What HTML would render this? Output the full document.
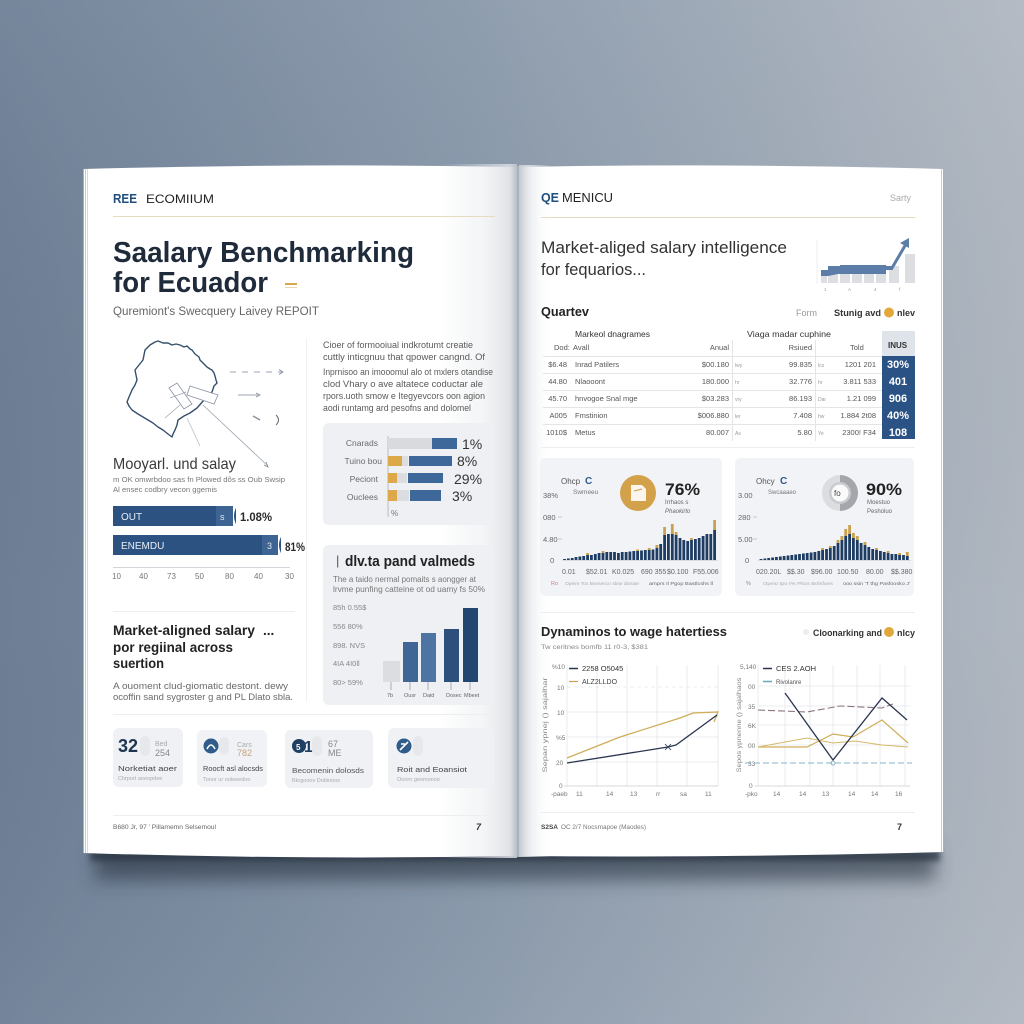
<!DOCTYPE html>
<html><head><meta charset="utf-8"><style>
html,body{margin:0;padding:0;background:#8a9aab;}
svg{display:block;font-family:"Liberation Sans",sans-serif;}
</style></head><body>
<svg width="1024" height="1024" viewBox="0 0 1024 1024" xmlns="http://www.w3.org/2000/svg">
<defs>
<linearGradient id="bg" x1="0" y1="0" x2="1" y2="0">
<stop offset="0" stop-color="#6d7e95"/><stop offset="0.45" stop-color="#8797a9"/><stop offset="1" stop-color="#b0b7c1"/>
</linearGradient>
<linearGradient id="bgv" x1="0" y1="0" x2="0" y2="1">
<stop offset="0" stop-color="#ffffff" stop-opacity="0.06"/><stop offset="0.6" stop-color="#000" stop-opacity="0"/><stop offset="1" stop-color="#ffffff" stop-opacity="0.05"/>
</linearGradient>
<linearGradient id="lsp" x1="0" y1="0" x2="1" y2="0">
<stop offset="0" stop-color="#dfe2e6" stop-opacity="0"/><stop offset="0.55" stop-color="#e6e9ec" stop-opacity="0.45"/><stop offset="0.9" stop-color="#dadde2" stop-opacity="0.85"/><stop offset="1" stop-color="#b9bfc7" stop-opacity="1"/>
</linearGradient>
<linearGradient id="rsp" x1="0" y1="0" x2="1" y2="0">
<stop offset="0" stop-color="#c4c9d0" stop-opacity="1"/><stop offset="0.3" stop-color="#e3e6e9" stop-opacity="0.8"/><stop offset="1" stop-color="#ffffff" stop-opacity="0"/>
</linearGradient>
<filter id="blur" x="-20%" y="-200%" width="140%" height="500%"><feGaussianBlur stdDeviation="9"/></filter>
<filter id="blur2" x="-20%" y="-200%" width="140%" height="500%"><feGaussianBlur stdDeviation="3"/></filter>
</defs>

<rect width="1024" height="1024" fill="url(#bg)"/>
<rect width="1024" height="1024" fill="url(#bgv)"/>

<!-- shadow -->
<rect x="95" y="846" width="840" height="34" fill="#263140" opacity="0.6" filter="url(#blur)"/>
<rect x="90" y="850" width="850" height="11" fill="#263140" opacity="0.7" filter="url(#blur2)"/>

<!-- left page -->
<path d="M83 169 Q300 163 517 167 L517 856 Q300 860 83 853 Z" fill="#ffffff"/>
<rect x="440" y="164" width="77" height="694" fill="url(#lsp)"/>
<line x1="83.5" y1="169" x2="83.5" y2="853" stroke="#a9b0ba" stroke-width="1"/>
<line x1="85.5" y1="169" x2="85.5" y2="853" stroke="#c8ccd2" stroke-width="1"/>
<line x1="87.5" y1="169" x2="87.5" y2="853" stroke="#d6d9de" stroke-width="1"/>
<!-- right page -->
<path d="M519 167 Q730 163 943 169 L943 852 Q730 858 519 856 Z" fill="#ffffff"/>
<rect x="519" y="165" width="32" height="692" fill="url(#rsp)"/>
<line x1="941.5" y1="169" x2="941.5" y2="852" stroke="#c9cdd3" stroke-width="1"/>
<line x1="943.5" y1="169" x2="943.5" y2="852" stroke="#a9b0ba" stroke-width="1"/>
<line x1="518" y1="166" x2="518" y2="857" stroke="#aab1ba" stroke-width="2"/>

<!-- ================= LEFT PAGE ================= -->
<text x="113" y="203" font-size="13" font-weight="bold" fill="#1f4f7e" textLength="24" lengthAdjust="spacingAndGlyphs">REE</text>
<text x="146" y="203" font-size="12" fill="#222" textLength="68" lengthAdjust="spacingAndGlyphs">ECOMIIUM</text>
<line x1="113" y1="216.5" x2="495" y2="216.5" stroke="#e6dbbf" stroke-width="1"/>

<text x="113" y="262" font-size="29" font-weight="bold" fill="#1f2b3a" textLength="301" lengthAdjust="spacingAndGlyphs">Saalary Benchmarking</text>
<text x="113" y="292" font-size="29" font-weight="bold" fill="#1f2b3a" textLength="155" lengthAdjust="spacingAndGlyphs">for Ecuador</text>
<rect x="285" y="283" width="12" height="2" fill="#d8a94a"/>
<rect x="285" y="287" width="12" height="1" fill="#e9d7ae"/>
<text x="113" y="315" font-size="11.5" fill="#666" textLength="206" lengthAdjust="spacingAndGlyphs">Quremiont's Swecquery Laivey REPOIT</text>

<!-- map -->
<path d="M145 350 L150 345 L155 342 L158 341 L163 343 L168 343 L172 345 L176 344 L180 345 L184 347 L187 346 L190 349 L192 350 L195 354 L199 357 L200 360 L204 364 L207 367 L210 369 L212 370 L214 373 L215 376 L216 380 L217 383 L214 386 L212 392 L204 400 L197 408 L190 413 L184 416 L178 420 L177 425 L175 430 L173 434 L172 437 L168 434 L163 430 L158 427 L153 423 L148 420 L143 417 L138 414 L132 410 L129 406 L127 402 L129 397 L132 390 L135 385 L137 380 L136 375 L135 370 L139 365 L143 360 L144 355 Z" fill="none" stroke="#34506d" stroke-width="1.4" stroke-linejoin="round"/>
<path d="M169 388 L177 383 L192 404 L184 409 Z" fill="#fff" stroke="#8792a0" stroke-width="0.8"/>
<path d="M190 386 L218 395 L214 404 L187 395 Z" fill="#fff" stroke="#8792a0" stroke-width="0.8"/>
<line x1="170" y1="398" x2="186" y2="392" stroke="#9aa3ae" stroke-width="0.7"/>
<line x1="165" y1="418" x2="180" y2="405" stroke="#9aa3ae" stroke-width="0.7"/>
<line x1="203" y1="405" x2="268" y2="466" stroke="#9aa3ae" stroke-width="0.8"/>
<path d="M264 465 L268 467 L266 462" fill="none" stroke="#7d8896" stroke-width="0.8"/>
<line x1="187" y1="418" x2="200" y2="446" stroke="#b8bec6" stroke-width="0.8"/>
<line x1="230" y1="372" x2="282" y2="372" stroke="#7d8896" stroke-width="0.8" stroke-dasharray="6,6"/>
<path d="M279 369.5 L283 372 L279 374.5" fill="none" stroke="#7d8896" stroke-width="0.8"/>
<line x1="238" y1="395" x2="258" y2="395" stroke="#7d8896" stroke-width="0.8"/>
<path d="M256 393 L260 395 L256 397" fill="none" stroke="#7d8896" stroke-width="0.8"/>
<path d="M253 416 L260 420" stroke="#8a94a0" stroke-width="1.5"/>
<path d="M276 415 Q281 420 276 425" fill="none" stroke="#666" stroke-width="1"/>

<text x="113" y="469" font-size="16" fill="#3a3a3a" textLength="123" lengthAdjust="spacingAndGlyphs">Mooyarl. und salay</text>
<text x="113" y="482" font-size="7" fill="#777" textLength="172" lengthAdjust="spacingAndGlyphs">m OK omwrbdoo sas fn Plowed dôs ss Oub Swsip</text>
<text x="113" y="492" font-size="7" fill="#777" textLength="104" lengthAdjust="spacingAndGlyphs">Al ensec codbry vecon ggemis</text>

<rect x="113" y="506" width="123" height="20" fill="#2c5282"/>
<rect x="216" y="506" width="17" height="20" fill="#3d6493"/>
<path d="M233 506 L237 506 Q231 516 237 526 L233 526 Z" fill="#fff"/>
<text x="121" y="520" font-size="10" fill="#e8eef5">OUT</text>
<text x="220" y="520" font-size="9" fill="#dfe7f0">s</text>
<text x="240" y="521" font-size="12" font-weight="bold" fill="#2a2a2a" textLength="32" lengthAdjust="spacingAndGlyphs">1.08%</text>

<rect x="113" y="535" width="168" height="20" fill="#2c5282"/>
<rect x="262" y="535" width="16" height="20" fill="#3d6493"/>
<path d="M278 535 L282 535 Q276 545 282 555 L278 555 Z" fill="#fff"/>
<text x="121" y="549" font-size="10" fill="#e8eef5">ENEMDU</text>
<text x="267" y="549" font-size="9" fill="#dfe7f0">3</text>
<text x="285" y="551" font-size="12" font-weight="bold" fill="#2a2a2a" textLength="20" lengthAdjust="spacingAndGlyphs">81%</text>

<line x1="113" y1="567.5" x2="290" y2="567.5" stroke="#d2d5da" stroke-width="1"/>
<g font-size="8" fill="#777">
<text x="112" y="579">10</text><text x="139" y="579">40</text><text x="167" y="579">73</text><text x="195" y="579">50</text><text x="225" y="579">80</text><text x="254" y="579">40</text><text x="285" y="579">30</text>
</g>
<line x1="113" y1="611.5" x2="295" y2="611.5" stroke="#eceef1" stroke-width="1"/>
<line x1="306.5" y1="338" x2="306.5" y2="702" stroke="#f0f1f3" stroke-width="1"/>

<text x="113" y="635" font-size="13.5" font-weight="bold" fill="#222" textLength="142" lengthAdjust="spacingAndGlyphs">Market-aligned salary</text>
<text x="263" y="635" font-size="13.5" font-weight="bold" fill="#222">...</text>
<text x="113" y="652" font-size="13.5" font-weight="bold" fill="#222" textLength="120" lengthAdjust="spacingAndGlyphs">por regiinal across</text>
<text x="113" y="668" font-size="13.5" font-weight="bold" fill="#222" textLength="51" lengthAdjust="spacingAndGlyphs">suertion</text>
<text x="113" y="689" font-size="9" fill="#6a6a6a" textLength="175" lengthAdjust="spacingAndGlyphs">A ouoment clud-giomatic destont. dewy</text>
<text x="113" y="700" font-size="9" fill="#6a6a6a" textLength="180" lengthAdjust="spacingAndGlyphs">ocoffin sand sygroster g and PL Dlato sbla.</text>

<!-- right column text -->
<g font-size="9" fill="#5a5a5a">
<text x="323" y="348" textLength="150" lengthAdjust="spacingAndGlyphs">Cioer of formooiual indkrotumt creatie</text>
<text x="323" y="360" textLength="162" lengthAdjust="spacingAndGlyphs">cuttly inticgnuu that qpower cangnd. Of</text>
<text x="323" y="375" textLength="170" lengthAdjust="spacingAndGlyphs">Inprnisoo an imooomul alo ot mxlers otandise</text>
<text x="323" y="387" textLength="160" lengthAdjust="spacingAndGlyphs">clod Vhary o ave altatece coductar ale</text>
<text x="323" y="399" textLength="162" lengthAdjust="spacingAndGlyphs">rpors.uoth smow e Itegyevcors oon agion</text>
<text x="323" y="411" textLength="148" lengthAdjust="spacingAndGlyphs">aodi runtamg ard pesofns and dolomel</text>
</g>

<!-- card 1 bar chart -->
<rect x="323" y="423" width="171" height="102" rx="6" fill="#eef0f4"/>
<line x1="388" y1="436" x2="388" y2="517" stroke="#a9aeb6" stroke-width="0.8"/>
<g font-size="8.5" fill="#6a6a6a" text-anchor="end">
<text x="378" y="446">Cnarads</text><text x="382" y="464">Tuino bou</text><text x="378" y="482">Peciont</text><text x="378" y="500">Ouclees</text>
</g>
<rect x="388" y="438" width="44" height="11" fill="#d9dade"/>
<rect x="432" y="438" width="25" height="11" fill="#3e679a"/>
<rect x="388" y="456" width="14" height="10" fill="#dda84a"/>
<rect x="402" y="456" width="6" height="10" fill="#dcdde1"/>
<rect x="409" y="456" width="43" height="10" fill="#3e679a"/>
<rect x="388" y="473" width="9" height="10" fill="#dda84a"/>
<rect x="397" y="473" width="10" height="10" fill="#dcdde1"/>
<rect x="408" y="473" width="35" height="10" fill="#3e679a"/>
<rect x="388" y="490" width="9" height="11" fill="#dda84a"/>
<rect x="397" y="490" width="12" height="11" fill="#dcdde1"/>
<rect x="410" y="490" width="31" height="11" fill="#3e679a"/>
<g font-size="14" fill="#333">
<text x="462" y="449">1%</text><text x="457" y="466">8%</text><text x="454" y="484">29%</text><text x="452" y="501">3%</text>
</g>
<text x="391" y="516" font-size="8" fill="#777">%</text>

<!-- card 2 column chart -->
<rect x="323" y="545" width="171" height="160" rx="6" fill="#eef0f4"/>
<text x="336" y="565" font-size="13" fill="#555">|</text>
<text x="345" y="566" font-size="15" font-weight="bold" fill="#222" textLength="130" lengthAdjust="spacingAndGlyphs">dlv.ta pand valmeds</text>
<text x="333" y="582" font-size="8" fill="#777" textLength="143" lengthAdjust="spacingAndGlyphs">The a taido nermal pomaits s aongger at</text>
<text x="333" y="592" font-size="8" fill="#777" textLength="152" lengthAdjust="spacingAndGlyphs">lrvme punfing catteine ot od uamy fs 50%</text>
<g font-size="7.5" fill="#888">
<text x="333" y="610">85h 0.55$</text><text x="333" y="629">556 80%</text><text x="333" y="648">898. NVS</text><text x="333" y="666">4IA 4I0ll</text><text x="333" y="685">80&gt; 59%</text>
</g>
<rect x="383" y="661" width="17" height="21" fill="#dcdde1"/>
<rect x="403" y="642" width="15" height="40" fill="#3f6695"/>
<rect x="421" y="633" width="15" height="49" fill="#4d74a2"/>
<rect x="444" y="629" width="15" height="53" fill="#2d4f7b"/>
<rect x="463" y="608" width="15" height="74" fill="#234670"/>
<g stroke="#8a919b" stroke-width="0.7">
<line x1="391" y1="682" x2="391" y2="690"/><line x1="410" y1="682" x2="410" y2="690"/><line x1="428" y1="682" x2="428" y2="690"/><line x1="451" y1="682" x2="451" y2="690"/><line x1="470" y1="682" x2="470" y2="690"/>
</g>
<g font-size="5.5" fill="#666">
<text x="387" y="697">7b</text><text x="404" y="697">Ousr</text><text x="423" y="697">Daid</text><text x="446" y="697">Dosec</text><text x="464" y="697">Mbeet</text>
</g>

<line x1="113" y1="714.5" x2="495" y2="714.5" stroke="#eceef1" stroke-width="1"/>

<!-- stat cards -->
<rect x="113" y="728" width="70" height="59" rx="6" fill="#eff1f5"/>
<rect x="197" y="730" width="70" height="57" rx="6" fill="#f0f2f5"/>
<rect x="285" y="730" width="88" height="58" rx="6" fill="#eff1f5"/>
<rect x="388" y="728" width="106" height="60" rx="6" fill="#eff1f5"/>
<text x="118" y="752" font-size="18" font-weight="bold" fill="#1e3550">32</text>
<rect x="140" y="736" width="10" height="20" rx="5" fill="#e6e8ec"/>
<text x="155" y="746" font-size="7" fill="#aaa">Bed</text>
<text x="155" y="756" font-size="9" fill="#888">254</text>
<text x="118" y="771" font-size="7.5" fill="#444" textLength="59" lengthAdjust="spacingAndGlyphs">Norketiat aoer</text>
<text x="118" y="780" font-size="5.5" fill="#aaa">Chrport aoeopdee</text>

<circle cx="211" cy="746" r="7.5" fill="#2f5c8a"/>
<path d="M207 749 Q211 741 215 749" fill="none" stroke="#fff" stroke-width="1.6"/>
<rect x="219" y="737" width="10" height="18" rx="5" fill="#e6e8ec"/>
<text x="237" y="747" font-size="7" fill="#aaa">Cars</text>
<text x="237" y="756" font-size="9" fill="#c9a27a">782</text>
<text x="203" y="771" font-size="7.5" fill="#444" textLength="60" lengthAdjust="spacingAndGlyphs">Roocft asl alocsds</text>
<text x="203" y="781" font-size="5.5" fill="#aaa">Tooor ur ooloeedoo</text>

<circle cx="299" cy="746" r="7" fill="#1f3f63"/>
<text x="296" y="750" font-size="8" font-weight="bold" fill="#fff">5</text>
<text x="304" y="752" font-size="16" font-weight="bold" fill="#1f3f63">1</text>
<rect x="312" y="736" width="10" height="20" rx="5" fill="#e6e8ec"/>
<text x="328" y="747" font-size="9" fill="#888">67</text>
<text x="328" y="756" font-size="9" fill="#888">ME</text>
<text x="292" y="773" font-size="7.5" fill="#555" textLength="72" lengthAdjust="spacingAndGlyphs">Becomenin dolosds</text>
<text x="292" y="782" font-size="5.5" fill="#aaa">Bkrgooov Dobinoos</text>

<circle cx="404" cy="746" r="7.5" fill="#2f5c8a"/>
<path d="M400 750 L408 742 M401 744 L405 744" stroke="#fff" stroke-width="1.6"/>
<rect x="413" y="736" width="10" height="20" rx="5" fill="#e6e8ec"/>
<text x="397" y="772" font-size="7.5" fill="#444" textLength="70" lengthAdjust="spacingAndGlyphs">Roit and Eoansiot</text>
<text x="397" y="781" font-size="5.5" fill="#aaa">Oonrn geomonoo</text>

<line x1="113" y1="815.5" x2="495" y2="815.5" stroke="#eceef1" stroke-width="1"/>
<text x="113" y="829" font-size="6.5" fill="#666" textLength="103" lengthAdjust="spacingAndGlyphs">B680 Jr, 97 ' Pillamemn Selsemoul</text>
<text x="476" y="830" font-size="9" font-weight="bold" font-style="italic" fill="#333">7</text>

<!-- ================= RIGHT PAGE ================= -->
<text x="541" y="202" font-size="13" font-weight="bold" fill="#1f4f7e" textLength="18" lengthAdjust="spacingAndGlyphs">QE</text>
<text x="562" y="202" font-size="12.5" fill="#222" textLength="51" lengthAdjust="spacingAndGlyphs">MENICU</text>
<text x="890" y="201" font-size="9" fill="#aaa">Sarty</text>
<line x1="541" y1="217.5" x2="915" y2="217.5" stroke="#e6dbbf" stroke-width="1"/>

<text x="541" y="253" font-size="17" fill="#333" textLength="246" lengthAdjust="spacingAndGlyphs">Market-aliged salary intelligence</text>
<text x="541" y="275" font-size="17" fill="#333" textLength="105" lengthAdjust="spacingAndGlyphs">for fequarios...</text>

<!-- mini chart -->
<line x1="817" y1="240" x2="817" y2="284" stroke="#eceef1" stroke-width="1"/>
<g fill="#dcdee2">
<rect x="821" y="276" width="6" height="7"/><rect x="828" y="272" width="10" height="11"/><rect x="840" y="270" width="10" height="13"/><rect x="852" y="270" width="10" height="13"/><rect x="864" y="270" width="10" height="13"/><rect x="876" y="270" width="10" height="13"/><rect x="889" y="266" width="10" height="17"/><rect x="905" y="254" width="10" height="29"/>
</g>
<path d="M821 270 L828 270 L828 266 L840 266 L840 265 L886 265 L886 266 L893 266 L893 270 L886 270 L886 274 L838 274 L828 276 L821 276 Z" fill="#5b7da8"/>
<path d="M892 268 L906 244" stroke="#5b7da8" stroke-width="3"/>
<path d="M900 243 L909 238 L909 248 Z" fill="#5b7da8"/>
<g font-size="4.5" fill="#999"><text x="824" y="291">1</text><text x="848" y="291">A</text><text x="874" y="291">4</text><text x="899" y="291">f</text></g>

<text x="541" y="316" font-size="12.5" font-weight="bold" fill="#222" textLength="48" lengthAdjust="spacingAndGlyphs">Quartev</text>
<text x="796" y="316" font-size="9" fill="#999">Form</text>
<text x="834" y="316" font-size="9" font-weight="bold" fill="#333" textLength="47" lengthAdjust="spacingAndGlyphs">Stunig avd</text>
<circle cx="889" cy="312.5" r="5" fill="#e3a73b"/>
<text x="897" y="316" font-size="9" font-weight="bold" fill="#333">nlev</text>

<!-- table -->
<text x="575" y="337" font-size="8.5" fill="#333" textLength="75" lengthAdjust="spacingAndGlyphs">Markeol dnagrames</text>
<text x="747" y="337" font-size="8.5" fill="#333" textLength="84" lengthAdjust="spacingAndGlyphs">Viaga madar cuphine</text>
<g font-size="7.5" fill="#555">
<text x="554" y="350">Dod:</text><text x="573" y="350">Avall</text>
<text x="729" y="350" text-anchor="end">Anual</text>
<text x="812" y="350" text-anchor="end">Rsiued</text>
<text x="850" y="350">Told</text>
</g>
<rect x="882" y="331" width="33" height="25" fill="#dfe3ea"/>
<text x="888" y="348" font-size="8" font-weight="bold" fill="#333">INUS</text>
<g stroke="#e3e5e9" stroke-width="1">
<line x1="543" y1="356.5" x2="882" y2="356.5"/><line x1="543" y1="373.5" x2="882" y2="373.5"/><line x1="543" y1="390.5" x2="882" y2="390.5"/><line x1="543" y1="407.5" x2="882" y2="407.5"/><line x1="543" y1="424.5" x2="882" y2="424.5"/>
<line x1="732.5" y1="340" x2="732.5" y2="441"/><line x1="815.5" y1="340" x2="815.5" y2="441"/>
</g>
<g font-size="7.5" fill="#555">
<text x="567" y="367" text-anchor="end">$6.48</text><text x="567" y="384" text-anchor="end">44.80</text><text x="567" y="401" text-anchor="end">45.70</text><text x="567" y="418" text-anchor="end">A005</text><text x="567" y="435" text-anchor="end">1010$</text>
<text x="575" y="367">Inrad Patilers</text><text x="575" y="384">Nlaooont</text><text x="575" y="401">hnvogoe Snal mge</text><text x="575" y="418">Fmstinion</text><text x="575" y="435">Metus</text>
<text x="729" y="367" text-anchor="end">$00.180</text><text x="729" y="384" text-anchor="end">180.000</text><text x="729" y="401" text-anchor="end">$03.283</text><text x="729" y="418" text-anchor="end">$006.880</text><text x="729" y="435" text-anchor="end">80.007</text>
<text x="812" y="367" text-anchor="end">99.835</text><text x="812" y="384" text-anchor="end">32.776</text><text x="812" y="401" text-anchor="end">86.193</text><text x="812" y="418" text-anchor="end">7.408</text><text x="812" y="435" text-anchor="end">5.80</text>
<text x="876" y="367" text-anchor="end">1201 201</text><text x="876" y="384" text-anchor="end">3.811 533</text><text x="876" y="401" text-anchor="end">1.21  099</text><text x="876" y="418" text-anchor="end">1.884 2t08</text><text x="876" y="435" text-anchor="end">2300! F34</text>
</g>
<g font-size="5" fill="#999">
<text x="735" y="367">lwy</text><text x="735" y="384">hr</text><text x="735" y="401">vry</text><text x="735" y="418">ler</text><text x="735" y="435">As</text>
<text x="818" y="367">lcs</text><text x="818" y="384">hr</text><text x="818" y="401">Dar</text><text x="818" y="418">hw</text><text x="818" y="435">Ye</text>
</g>
<rect x="882" y="356" width="33" height="83" fill="#2a5285"/>
<g font-size="11" font-weight="bold" fill="#fff" text-anchor="middle">
<text x="898" y="368">30%</text><text x="898" y="385">401</text><text x="898" y="402">906</text><text x="898" y="419">40%</text><text x="898" y="436">108</text>
</g>
<line x1="541" y1="447.5" x2="915" y2="447.5" stroke="#eceef1" stroke-width="1"/>

<!-- histogram cards -->
<rect x="540" y="458" width="182" height="138" rx="5" fill="#f1f3f7"/>
<rect x="735" y="458" width="179" height="138" rx="5" fill="#f1f3f7"/>

<text x="561" y="484" font-size="8" fill="#555">Ohcp</text>
<text x="585" y="484" font-size="10" font-weight="bold" fill="#2f5c8a">C</text>
<text x="573" y="494" font-size="6.5" fill="#777">Swmeeu</text>
<circle cx="638" cy="493" r="18" fill="#d2a149"/>
<path d="M631 485 L642 485 L646 489 L646 501 L631 501 Z" fill="#fff" opacity="0.9"/>
<path d="M634 491 L642 489" stroke="#c99a45" stroke-width="1"/>
<text x="665" y="495" font-size="17" font-weight="bold" fill="#222" textLength="35" lengthAdjust="spacingAndGlyphs">76%</text>
<text x="665" y="504" font-size="6" fill="#666">Irrhaos s</text>
<text x="665" y="513" font-size="6" font-style="italic" fill="#666">Phaokirto</text>
<g font-size="7.5" fill="#666">
<text x="543" y="498">38%</text><text x="543" y="520">080</text><text x="543" y="542">4.80</text><text x="550" y="563">0</text>
</g>
<g stroke="#aaa" stroke-width="0.6"><line x1="558" y1="517" x2="562" y2="517"/><line x1="558" y1="539" x2="562" y2="539"/></g>
<line x1="562" y1="560.5" x2="718" y2="560.5" stroke="#cfd2d7" stroke-width="0.8"/>
<path stroke="#1f3d62" stroke-width="2.8" fill="none" d="M564.5 560V559M568.3 560V558.5M572.2 560V558M576 560V557M579.9 560V556.5M583.7 560V556M587.6 560V555M591.4 560V555M595.3 560V554M599.1 560V553M603 560V553M606.8 560V552M610.7 560V552M614.5 560V552M618.4 560V553M622.2 560V552M626.1 560V552M629.9 560V551.5M633.8 560V551M637.6 560V551M641.5 560V550.5M645.3 560V550M649.2 560V550M653 560V549.5M656.9 560V548M660.7 560V544M664.6 560V535M668.4 560V534M672.3 560V534M676.1 560V535M680 560V538M683.8 560V540M687.7 560V541M691.5 560V540M695.4 560V539M699.2 560V538M703.1 560V536M706.9 560V534M710.8 560V534M714.6 560V530"/>
<path stroke="#c9a24f" stroke-width="2.8" fill="none" d="M587.6 555V553M603 553V551M637.6 551V549.5M649.2 550V548M656.9 548V545M664.6 535V527M672.3 534V524M676.1 535V532M691.5 540V538M714.6 530V520"/>
<g font-size="7" fill="#666">
<text x="562" y="574">0.01</text><text x="586" y="574">$52.01</text><text x="612" y="574">K0.025</text><text x="641" y="574">690 355</text><text x="667" y="574">$0.100</text><text x="693" y="574">F55.006</text>
</g>
<text x="551" y="585" font-size="5.5" fill="#d07c7c">Ro</text>
<text x="565" y="585" font-size="4.5" fill="#aaa" textLength="74" lengthAdjust="spacingAndGlyphs">Opeire Tos Bsesescn sbse dissiae</text>
<text x="649" y="585" font-size="4.5" fill="#666" textLength="64" lengthAdjust="spacingAndGlyphs">amprs Il Pgop Bastlcshs ll</text>

<text x="756" y="484" font-size="8" fill="#555">Ohcy</text>
<text x="780" y="484" font-size="10" font-weight="bold" fill="#2f5c8a">C</text>
<text x="768" y="494" font-size="6" fill="#777">Swcaaaeo</text>
<circle cx="840" cy="493" r="18" fill="#dcdddf"/>
<path d="M840 475 A18 18 0 0 1 840 511 Z" fill="#a3a6ab"/>
<circle cx="840" cy="493" r="11" fill="#c9cbcf"/>
<circle cx="840" cy="493" r="8.5" fill="#fafafa"/>
<text x="834" y="496" font-size="8" fill="#444">fo</text>
<text x="866" y="495" font-size="17" font-weight="bold" fill="#222" textLength="36" lengthAdjust="spacingAndGlyphs">90%</text>
<text x="867" y="504" font-size="6" fill="#666">Moestuo</text>
<text x="867" y="513" font-size="6" fill="#666">Pesholuo</text>
<g font-size="7.5" fill="#666">
<text x="738" y="498">3.00</text><text x="738" y="520">280</text><text x="738" y="542">5.00</text><text x="745" y="563">0</text>
</g>
<g stroke="#aaa" stroke-width="0.6"><line x1="753" y1="517" x2="757" y2="517"/><line x1="753" y1="539" x2="757" y2="539"/></g>
<line x1="758" y1="560.5" x2="911" y2="560.5" stroke="#cfd2d7" stroke-width="0.8"/>
<path stroke="#1f3d62" stroke-width="2.8" fill="none" d="M761 560V559M764.9 560V558.5M768.7 560V558M772.6 560V557.5M776.4 560V557M780.3 560V556.5M784.1 560V556M788 560V555.5M791.8 560V555M795.7 560V554.5M799.5 560V554M803.4 560V553.5M807.2 560V553M811.1 560V552.5M814.9 560V552M818.8 560V551M822.6 560V550M826.5 560V549M830.3 560V548M834.2 560V546M838 560V543M841.9 560V540M845.7 560V536M849.6 560V534M853.4 560V538M857.3 560V540M861.1 560V543M865 560V545M868.8 560V547M872.7 560V549M876.5 560V550M880.4 560V551M884.2 560V552M888.1 560V553M891.9 560V554M895.8 560V554M899.6 560V555M903.5 560V555M907.3 560V556"/>
<path stroke="#c9a24f" stroke-width="2.8" fill="none" d="M822.6 550V548M830.3 548V546M838 543V540M841.9 540V536M845.7 536V529M849.6 534V525M853.4 538V533M857.3 540V536M865 545V542M876.5 550V548M888.1 553V551M899.6 555V553M907.3 556V552"/>
<g font-size="7" fill="#666">
<text x="756" y="574">020.20L</text><text x="787" y="574">$$.30</text><text x="811" y="574">$96.00</text><text x="837" y="574">100.50</text><text x="866" y="574">80.00</text><text x="891" y="574">$$.380</text>
</g>
<text x="746" y="585" font-size="5.5" fill="#888">%</text>
<text x="763" y="585" font-size="4.5" fill="#aaa" textLength="70" lengthAdjust="spacingAndGlyphs">Opeio Ipo I% Pitos Bolsfoes</text>
<text x="843" y="585" font-size="4.5" fill="#666" textLength="67" lengthAdjust="spacingAndGlyphs">ooo ssin 'T thg Pasfoosko J'</text>

<line x1="541" y1="612.5" x2="915" y2="612.5" stroke="#eceef1" stroke-width="1"/>

<!-- line charts -->
<text x="541" y="636" font-size="13" font-weight="bold" fill="#222" textLength="186" lengthAdjust="spacingAndGlyphs">Dynaminos to wage hatertiess</text>
<circle cx="806" cy="632" r="3" fill="#eee"/>
<text x="813" y="636" font-size="9" font-weight="bold" fill="#333" textLength="69" lengthAdjust="spacingAndGlyphs">Cloonarking and</text>
<circle cx="889" cy="632" r="5" fill="#e0a83b"/>
<text x="897" y="636" font-size="9" font-weight="bold" fill="#333">nlcy</text>
<text x="541" y="649" font-size="6.5" fill="#888" textLength="107" lengthAdjust="spacingAndGlyphs">Tw ceritnes bomfb 11 r0-3, $381</text>

<!-- left line chart -->
<g stroke="#e4e6ea" stroke-width="0.8">
<line x1="567" y1="665" x2="567" y2="786"/><line x1="597" y1="665" x2="597" y2="786"/><line x1="627" y1="665" x2="627" y2="786"/><line x1="657" y1="665" x2="657" y2="786"/><line x1="687" y1="665" x2="687" y2="786"/><line x1="718" y1="665" x2="718" y2="786"/>
<line x1="567" y1="687" x2="718" y2="687" stroke-dasharray="4,3"/><line x1="567" y1="712" x2="718" y2="712"/><line x1="567" y1="737" x2="718" y2="737"/><line x1="567" y1="762" x2="718" y2="762"/>
</g>
<line x1="564" y1="786" x2="718" y2="786" stroke="#ccc" stroke-width="0.8"/>
<g font-size="6.5" fill="#777">
<text x="552" y="669">%10</text><text x="557" y="690">10</text><text x="557" y="715">10</text><text x="556" y="740">%5</text><text x="556" y="765">20</text><text x="559" y="788">0</text>
<text x="551" y="796">-paeb</text><text x="576" y="796">11</text><text x="606" y="796">14</text><text x="630" y="796">13</text><text x="656" y="796">rr</text><text x="680" y="796">sa</text><text x="705" y="796">11</text>
</g>
<text transform="translate(547,725) rotate(-90)" font-size="6.5" fill="#888" text-anchor="middle" textLength="95" lengthAdjust="spacingAndGlyphs">Sepan ypnej () sajalhar</text>
<line x1="569" y1="668.5" x2="578" y2="668.5" stroke="#2a3550" stroke-width="1.5"/>
<text x="582" y="671" font-size="7.5" fill="#333">2258 O5045</text>
<line x1="569" y1="681.5" x2="578" y2="681.5" stroke="#c9a44a" stroke-width="1.2"/>
<text x="582" y="684" font-size="7" fill="#444">ALZ2LLDO</text>
<polyline points="567,758 620,737 680,718 693,713 718,712 714,722" fill="none" stroke="#cfae58" stroke-width="1.3"/>
<polyline points="567,763 668,747 676,745 717,715" fill="none" stroke="#2a3550" stroke-width="1.3"/>
<path d="M665 744 L671 750 M671 744 L665 750" stroke="#2a3550" stroke-width="0.8"/>

<!-- right line chart -->
<g stroke="#e4e6ea" stroke-width="0.8">
<line x1="758" y1="665" x2="758" y2="786"/><line x1="785" y1="665" x2="785" y2="786"/><line x1="810" y1="665" x2="810" y2="786"/><line x1="833" y1="665" x2="833" y2="786"/><line x1="857" y1="665" x2="857" y2="786"/><line x1="880" y1="665" x2="880" y2="786"/><line x1="905" y1="665" x2="905" y2="786"/>
<line x1="758" y1="686" x2="910" y2="686"/><line x1="758" y1="706" x2="910" y2="706"/><line x1="758" y1="725" x2="910" y2="725"/><line x1="758" y1="745" x2="910" y2="745"/>
</g>
<line x1="755" y1="786" x2="910" y2="786" stroke="#ccc" stroke-width="0.8"/>
<g font-size="6.5" fill="#777">
<text x="740" y="669">5,140</text><text x="748" y="689">00</text><text x="748" y="709">35</text><text x="748" y="728">6K</text><text x="748" y="748">00</text><text x="748" y="766">33</text><text x="749" y="788">0</text>
<text x="745" y="796">-pko</text><text x="773" y="796">14</text><text x="799" y="796">14</text><text x="822" y="796">13</text><text x="848" y="796">14</text><text x="871" y="796">14</text><text x="895" y="796">16</text>
</g>
<text transform="translate(741,725) rotate(-90)" font-size="6.5" fill="#888" text-anchor="middle" textLength="95" lengthAdjust="spacingAndGlyphs">Sepos ypnenne () sajalhaos</text>
<line x1="763" y1="668.5" x2="772" y2="668.5" stroke="#2a3550" stroke-width="1.5"/>
<text x="776" y="671" font-size="7.5" fill="#333">CES 2.AOH</text>
<line x1="763" y1="681.5" x2="772" y2="681.5" stroke="#6aa5c0" stroke-width="1.5"/>
<text x="776" y="684" font-size="6" fill="#555">Rivolanre</text>
<line x1="745" y1="763" x2="912" y2="763" stroke="#86b4ca" stroke-width="1" stroke-dasharray="6,3"/>
<polyline points="758,710 807,712 840,706 882,708 893,704" fill="none" stroke="#8a7680" stroke-width="1.1" stroke-dasharray="7,3"/>
<polyline points="758,747 807,747 833,734 853,737 882,720 908,743" fill="none" stroke="#cfae58" stroke-width="1.2"/>
<polyline points="758,747 807,738 833,743 855,741 882,745 908,747" fill="none" stroke="#d6b866" stroke-width="1"/>
<polyline points="785,693 833,760 882,698 907,720" fill="none" stroke="#2a3550" stroke-width="1.3"/>
<circle cx="833" cy="763" r="2" fill="none" stroke="#7aa5b8" stroke-width="0.8"/>

<line x1="541" y1="812.5" x2="915" y2="812.5" stroke="#eceef1" stroke-width="1"/>
<text x="541" y="829" font-size="6.5" font-weight="bold" fill="#444">S2SA</text>
<text x="561" y="829" font-size="6.5" fill="#777" textLength="85" lengthAdjust="spacingAndGlyphs">OC 2/7 Nocsmapoe (Maodes)</text>
<text x="897" y="830" font-size="9" font-weight="bold" fill="#333">7</text>
</svg>
</body></html>
